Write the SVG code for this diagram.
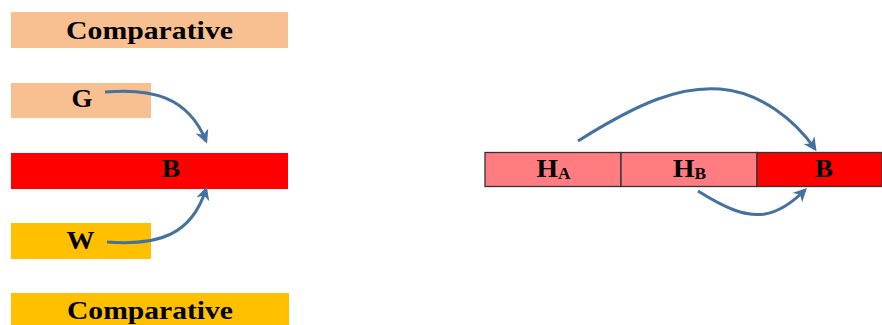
<svg xmlns="http://www.w3.org/2000/svg" width="882" height="325" viewBox="0 0 882 325">
<style>
.t{font-family:"Liberation Serif","Times New Roman",serif;font-weight:bold;font-size:25.5px;fill:#000;text-anchor:middle}
.s{font-size:16px}
.peach{fill:#f8bf90}
.amber{fill:#ffc000}
.red{fill:#ff0000}
.pink{fill:#ff7c80}
.cell{stroke:#333;stroke-width:1.3}
.arr{fill:none;stroke:#44719e;stroke-width:3;marker-end:url(#ah)}
</style>
<defs>
<marker id="ah" viewBox="0 0 10 10" refX="8" refY="5" markerWidth="4.5" markerHeight="4.5" orient="auto" markerUnits="strokeWidth">
<path d="M0,0 L10,5 L0,10 L3,5 Z" fill="#44719e"/>
</marker>
</defs>
<g id="comparative-top"><rect class="peach" x="11" y="12" width="277" height="36"/><text class="t" x="149.5" y="38.5" textLength="167" lengthAdjust="spacingAndGlyphs">Comparative</text></g>
<g id="G"><rect class="peach" x="11" y="83" width="140" height="35"/><text class="t" x="82" y="107" textLength="21" lengthAdjust="spacingAndGlyphs">G</text></g>
<g id="B-left"><rect class="red" x="11" y="153" width="277" height="36"/><text class="t" x="171" y="176.5" textLength="18.5" lengthAdjust="spacingAndGlyphs">B</text></g>
<g id="W"><rect class="amber" x="11" y="223" width="140" height="36"/><text class="t" x="80.5" y="248.5" textLength="28" lengthAdjust="spacingAndGlyphs">W</text></g>
<g id="comparative-bottom"><rect class="amber" x="11" y="293" width="278" height="34"/><text class="t" x="150" y="319" textLength="166" lengthAdjust="spacingAndGlyphs">Comparative</text></g>
<g id="HA"><rect class="pink cell" x="485" y="152.5" width="136" height="34"/><text class="t" x="553.5" y="176.5" textLength="34" lengthAdjust="spacingAndGlyphs">H<tspan class="s" dy="2">A</tspan></text></g>
<g id="HB"><rect class="pink cell" x="621" y="152.5" width="136" height="34"/><text class="t" x="689.5" y="176.5" textLength="33" lengthAdjust="spacingAndGlyphs">H<tspan class="s" dy="2">B</tspan></text></g>
<g id="B-right"><rect class="red cell" x="757" y="152.5" width="125" height="34"/><text class="t" x="824" y="176.5" textLength="18" lengthAdjust="spacingAndGlyphs">B</text></g>
<g id="connectors">
<path class="arr" d="M105,92 C150,88 188,96 206,141"/>
<path class="arr" d="M107,242 C160,246 192,234 206,189"/>
<path class="arr" d="M578,141 C640,102 680,86 720,89 C760,92 795,120 815,149"/>
<path class="arr" d="M698,191 C725,208 745,217 765,214 C782,211 795,200 805,190"/>
</g>
</svg>
